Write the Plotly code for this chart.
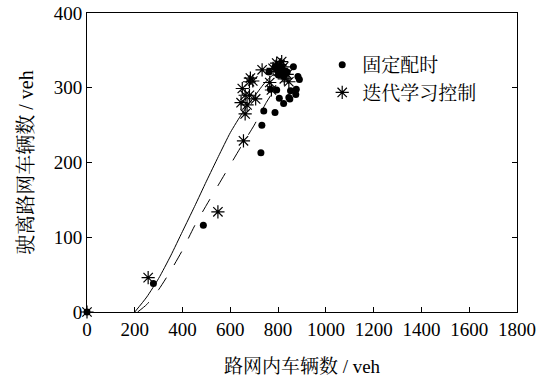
import plotly.graph_objects as go

# Fixed timing (dots)
fixed_x = [0, 278, 487, 728, 732, 740, 787, 762, 768, 794, 805, 823, 845, 849, 852, 864, 876, 874, 883, 889,
           794, 808, 830, 838, 823, 801, 787, 815]
fixed_y = [0, 38, 116, 213, 250, 269, 267, 321, 298, 297, 286, 279, 287, 285, 296, 328, 298, 291, 315, 311,
           324, 320, 322, 321, 315, 317, 328, 326]

# Iterative learning control (stars)
ilc_x = [0, 256, 548, 655, 662, 650, 645, 662, 670, 680, 706, 684, 680, 694, 733, 765, 772, 808, 815, 823,
         801, 838, 845, 826, 794, 779]
ilc_y = [0, 46, 134, 229, 265, 299, 280, 290, 277, 290, 285, 313, 308, 309, 324, 307, 297, 331, 335, 328,
         322, 318, 308, 312, 333, 326]

# Fitted curves
solid_x = [200, 250, 300, 350, 400, 450, 500, 550, 600, 650, 700, 740, 770, 785]
solid_y = [0, 20, 45, 75, 108, 141, 175, 208, 240, 266, 288, 305, 315, 318]
dash_x = [212, 250, 300, 350, 400, 450, 500, 550, 600, 650, 700, 750, 790]
dash_y = [0, 10, 30, 55, 83, 115, 143, 170, 197, 224, 250, 280, 300]

x_ticks = [0, 200, 400, 600, 800, 1000, 1200, 1400, 1600, 1800]
y_ticks = [0, 100, 200, 300, 400]

fig = go.Figure()
fig.add_trace(go.Scatter(x=solid_x, y=solid_y, mode="lines", line=dict(color="black", width=1),
                         line_shape="spline", line_smoothing=0.6, showlegend=False))
fig.add_trace(go.Scatter(x=dash_x, y=dash_y, mode="lines", line=dict(color="black", width=1, dash="longdash"),
                         line_shape="spline", line_smoothing=0.6, showlegend=False))
fig.add_trace(go.Scatter(x=fixed_x, y=fixed_y, mode="markers", name="固定配时", legendgroup="a",
                         cliponaxis=False,
                         marker=dict(symbol="circle", size=7, color="black")))
fig.add_trace(go.Scatter(x=ilc_x, y=ilc_y, mode="markers", name="迭代学习控制", legendgroup="b",
                         cliponaxis=False,
                         marker=dict(symbol="asterisk-open", size=11, color="black",
                                     line=dict(color="black", width=1.2))))

font_family = "Liberation Serif, Noto Serif CJK SC, Noto Sans CJK SC, serif"
fig.update_layout(
    width=548, height=378,
    margin=dict(l=87, r=31, t=13, b=66),
    paper_bgcolor="white", plot_bgcolor="white",
    font=dict(family=font_family, size=19, color="black"),
    legend=dict(x=0.547, y=0.89, xanchor="left", yanchor="top", bgcolor="rgba(0,0,0,0)",
                font=dict(family=font_family, size=19), itemwidth=30, tracegroupgap=0),
    xaxis=dict(range=[0, 1800], tickvals=x_ticks, ticks="inside", ticklen=5, tickcolor="black",
               showline=True, linecolor="black", linewidth=1, mirror=True, showgrid=False, zeroline=False,
               automargin=False, tickfont=dict(family=font_family, size=19),
               title=dict(text="路网内车辆数 / veh", font=dict(family=font_family, size=19), standoff=20)),
    yaxis=dict(range=[0, 400], tickvals=y_ticks, ticks="inside", ticklen=5, tickcolor="black",
               showline=True, linecolor="black", linewidth=1, mirror="ticks", showgrid=False, zeroline=False,
               automargin=False, tickfont=dict(family=font_family, size=19),
               title=dict(text="驶离路网车辆数 / veh", font=dict(family=font_family, size=20), standoff=14)),
)
fig.write_html("out.html")
